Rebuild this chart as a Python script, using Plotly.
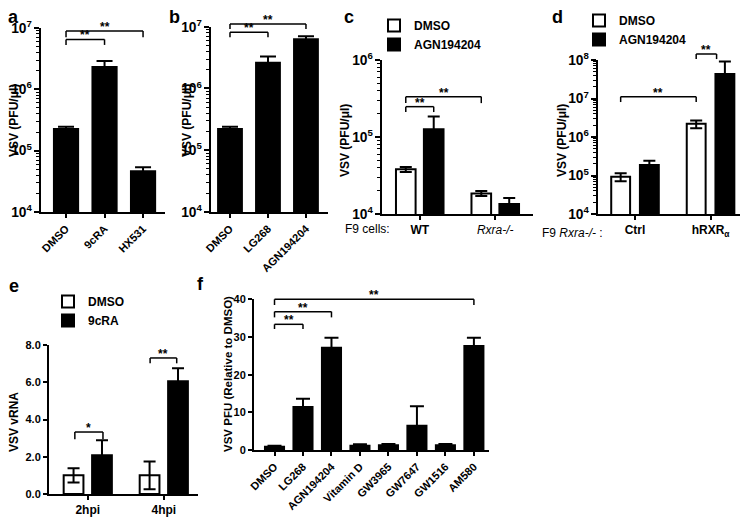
import plotly.graph_objects as go

W, H = 750, 519

# ---------------- data ----------------
a_cats = ["DMSO", "9cRA", "HX531"]
a_vals = [2.35e5, 2.4e6, 4.8e4]
a_err = [0.1e5, 0.5e6, 0.55e4]
a_decades = [4, 7]

b_cats = ["DMSO", "LG268", "AGN194204"]
b_vals = [2.3e5, 2.7e6, 6.5e6]
b_err = [0.1e5, 0.6e6, 0.5e6]
b_decades = [4, 7]

c_groups = ["<b>WT</b>", "<i>Rxra-/-</i>"]
c_dmso = [3.8e4, 1.85e4]
c_dmso_err = [0.28e4, 0.14e4]
c_agn = [1.26e5, 1.35e4]
c_agn_err = [0.58e5, 0.26e4]
c_decades = [4, 6]

d_groups = ["Ctrl", "hRXR<sub>α</sub>"]
d_dmso = [9.3e4, 2.2e6]
d_dmso_err = [2.2e4, 0.5e6]
d_agn = [1.87e5, 4.3e7]
d_agn_err = [0.55e5, 4.8e7]
d_agn_err_minus = [0.5e5, 2.5e7]
d_decades = [4, 8]

e_groups = ["2hpi", "4hpi"]
e_dmso = [1.0, 1.0]
e_dmso_err = [0.38, 0.75]
e_9cra = [2.08, 6.05]
e_9cra_err = [0.8, 0.7]
e_ticks = [0, 2, 4, 6, 8]
e_ticklabels = ["0.0", "2.0", "4.0", "6.0", "8.0"]

f_cats = ["DMSO", "LG268", "AGN194204", "Vitamin D", "GW3965", "GW7647", "GW1516", "AM580"]
f_vals = [1.1, 11.7, 27.4, 1.4, 1.5, 6.7, 1.5, 27.9]
f_err = [0.05, 1.9, 2.4, 0.1, 0.1, 4.9, 0.1, 1.9]
f_ticks = [0, 10, 20, 30, 40]
f_ticklabels = ["0", "10", "20", "30", "40"]

# ---------------- helpers ----------------
FONT = "Liberation Sans, Arial, sans-serif"
BLACK = "#000000"
WHITE = "#ffffff"
OFF = 8  # page offset of the figure inside the browser window


def px_x(p):
    return (p - OFF) / W


def px_y(p):
    return 1 - (p - OFF) / H


def tfont(size=11, weight="bold"):
    return dict(family=FONT, size=size, color=BLACK, weight=weight)


def x_axis(dom_px, rng, anchor, tickangle=0, weight="bold", size=11):
    return dict(domain=[px_x(dom_px[0]), px_x(dom_px[1])], range=rng, anchor=anchor,
                type="category", showline=True, linecolor=BLACK, linewidth=2,
                ticks="outside", ticklen=4, tickwidth=2, tickcolor=BLACK,
                tickangle=tickangle, tickfont=tfont(size, weight),
                showgrid=False, zeroline=False, fixedrange=True)


def log_y(dom_px, decades, anchor):
    return dict(domain=[px_y(dom_px[1]), px_y(dom_px[0])], type="log",
                range=[decades[0], decades[1]], anchor=anchor,
                showline=True, linecolor=BLACK, linewidth=2,
                ticks="outside", ticklen=5, tickwidth=2, tickcolor=BLACK,
                tickmode="linear", tick0=0, dtick=1,
                exponentformat="power", showexponent="all",
                minor=dict(ticks="outside", ticklen=3, tickwidth=1, tickcolor=BLACK,
                           dtick="D1", showgrid=False),
                tickfont=tfont(11), showgrid=False, zeroline=False, fixedrange=True)


def lin_y(dom_px, rng, ticks, labels, anchor):
    return dict(domain=[px_y(dom_px[1]), px_y(dom_px[0])], range=rng, anchor=anchor,
                showline=True, linecolor=BLACK, linewidth=2,
                ticks="outside", ticklen=4, tickwidth=2, tickcolor=BLACK,
                tickmode="array", tickvals=ticks, ticktext=labels,
                tickfont=tfont(11), showgrid=False, zeroline=False, fixedrange=True)


def err(arr, w, minus=None):
    d = dict(type="data", array=arr, color=BLACK, thickness=2, width=w, visible=True)
    if minus is not None:
        d["symmetric"] = False
        d["arrayminus"] = minus
    return d


fig = go.Figure()

# panel a
fig.add_trace(go.Bar(x=a_cats, y=a_vals, width=0.68, marker=dict(color=BLACK, line=dict(width=0)),
                     error_y=err(a_err, 8), xaxis="x", yaxis="y", showlegend=False))
# panel b
fig.add_trace(go.Bar(x=b_cats, y=b_vals, width=0.68, marker=dict(color=BLACK, line=dict(width=0)),
                     error_y=err(b_err, 8), xaxis="x2", yaxis="y2", showlegend=False))
# panel c
fig.add_trace(go.Bar(x=c_groups, y=c_dmso, name="DMSO", width=0.26, offset=-0.315,
                     marker=dict(color=WHITE, line=dict(color=BLACK, width=2)),
                     error_y=err(c_dmso_err, 6), xaxis="x3", yaxis="y3", legend="legend"))
fig.add_trace(go.Bar(x=c_groups, y=c_agn, name="AGN194204", width=0.26, offset=0.055,
                     marker=dict(color=BLACK, line=dict(color=BLACK, width=2)),
                     error_y=err(c_agn_err, 6), xaxis="x3", yaxis="y3", legend="legend"))
# panel d
fig.add_trace(go.Bar(x=d_groups, y=d_dmso, name="DMSO", width=0.25, offset=-0.315,
                     marker=dict(color=WHITE, line=dict(color=BLACK, width=2)),
                     error_y=err(d_dmso_err, 6), xaxis="x4", yaxis="y4", legend="legend2"))
fig.add_trace(go.Bar(x=d_groups, y=d_agn, name="AGN194204", width=0.25, offset=0.065,
                     marker=dict(color=BLACK, line=dict(color=BLACK, width=2)),
                     error_y=err(d_agn_err, 6, d_agn_err_minus), xaxis="x4", yaxis="y4",
                     legend="legend2"))
# panel e
fig.add_trace(go.Bar(x=e_groups, y=e_dmso, name="DMSO", width=0.26, offset=-0.317,
                     marker=dict(color=WHITE, line=dict(color=BLACK, width=2)),
                     error_y=err(e_dmso_err, 6), xaxis="x5", yaxis="y5", legend="legend3"))
fig.add_trace(go.Bar(x=e_groups, y=e_9cra, name="9cRA", width=0.26, offset=0.057,
                     marker=dict(color=BLACK, line=dict(color=BLACK, width=2)),
                     error_y=err(e_9cra_err, 6), xaxis="x5", yaxis="y5", legend="legend3"))
# panel f
fig.add_trace(go.Bar(x=f_cats, y=f_vals, width=0.74, marker=dict(color=BLACK, line=dict(width=0)),
                     error_y=err(f_err, 7), xaxis="x6", yaxis="y6", showlegend=False))

legend_common = dict(xanchor="left", yanchor="top", font=tfont(12), bgcolor="rgba(0,0,0,0)",
                     itemwidth=30, traceorder="normal", tracegroupgap=0, borderwidth=0)

fig.update_layout(
    width=W, height=H, margin=dict(l=0, r=0, t=0, b=0, autoexpand=False),
    paper_bgcolor=WHITE, plot_bgcolor=WHITE, barmode="overlay",
    font=dict(family=FONT, color=BLACK),
    xaxis=x_axis((41, 165), [-0.65, 2.57], "y", tickangle=-45),
    yaxis=log_y((28, 212), a_decades, "x"),
    xaxis2=x_axis((211, 328), [-0.5, 2.58], "y2", tickangle=-45),
    yaxis2=log_y((26.7, 212), b_decades, "x2"),
    xaxis3=x_axis((382, 533), [-0.5, 1.5], "y3", weight="normal", size=12),
    yaxis3=log_y((60, 214), c_decades, "x3"),
    xaxis4=x_axis((598, 740), [-0.49, 1.39], "y4", size=12),
    yaxis4=log_y((60, 214), d_decades, "x4"),
    xaxis5=x_axis((49, 198), [-0.51, 1.45], "y5", size=12),
    yaxis5=lin_y((345, 494), [0, 8], e_ticks, e_ticklabels, "x5"),
    xaxis6=x_axis((254, 489), [-0.72, 7.53], "y6", tickangle=-45),
    yaxis6=lin_y((299.3, 450), [0, 40], f_ticks, f_ticklabels, "x6"),
    legend=dict(x=px_x(374), y=px_y(11), **legend_common),
    legend2=dict(x=px_x(579), y=px_y(6), **legend_common),
    legend3=dict(x=px_x(48), y=px_y(287), **legend_common),
)

# significance brackets: (axis suffix, x0, x1, y level (domain frac), drop level, label)
brackets = [
    ("", 0, 1, 0.938, 0.908, "**"),
    ("", 0, 2, 0.984, 0.950, "**"),
    ("2", 0, 1, 0.970, 0.943, "**"),
    ("2", 0, 2, 1.015, 0.988, "**"),
    ("3", -0.185, 0.185, 0.697, 0.662, "**"),
    ("3", -0.185, 0.815, 0.762, 0.720, "**"),
    ("4", -0.19, 0.81, 0.762, 0.727, "**"),
    ("4", 0.81, 1.08, 1.039, 1.006, "**"),
    ("5", -0.17, 0.2, 0.416, 0.367, "*"),
    ("5", 0.82, 1.17, 0.913, 0.877, "**"),
    ("6", 0, 7, 1.000, 0.962, "**"),
    ("6", 0, 2, 0.918, 0.880, "**"),
    ("6", 0, 1, 0.834, 0.803, "**"),
]
for ax, x0, x1, yl, yd, lab in brackets:
    xr, yr = "x" + ax, "y" + ax + " domain"
    for (xa, ya, xb, yb) in [(x0, yd, x0, yl), (x0, yl, x1, yl), (x1, yl, x1, yd)]:
        fig.add_shape(type="line", xref=xr, yref=yr, x0=xa, y0=ya, x1=xb, y1=yb,
                      line=dict(color=BLACK, width=1.5))
    fig.add_annotation(xref=xr, yref=yr, x=(x0 + x1) / 2, y=yl, text=lab, showarrow=False,
                       yanchor="middle", yshift=4, font=tfont(12))

# axis titles
titles = [
    ("VSV (PFU/μl)", 14, 121, 12),
    ("VSV (PFU/μl)", 187, 121, 12),
    ("VSV (PFU/μl)", 345, 141, 12),
    ("VSV (PFU/μl)", 562, 141, 12),
    ("VSV vRNA", 14, 422, 12),
    ("VSV PFU (Relative to DMSO)", 228, 374, 11.5),
]
for txt, xp, yp, fs in titles:
    fig.add_annotation(xref="paper", yref="paper", x=px_x(xp), y=px_y(yp), text=txt,
                       textangle=-90, showarrow=False, xanchor="center", yanchor="middle",
                       font=tfont(fs))

# group prefix labels
fig.add_annotation(xref="paper", yref="paper", x=px_x(343), y=px_y(229), text="F9 cells:",
                   showarrow=False, xanchor="left", yanchor="middle", font=tfont(12, "normal"))
fig.add_annotation(xref="paper", yref="paper", x=px_x(540), y=px_y(233),
                   text="F9 <i>Rxra-/-</i> :", showarrow=False, xanchor="left",
                   yanchor="middle", font=tfont(12, "normal"))

# panel letters
for letter, xp, yp in [("a", 13, 17), ("b", 174, 17), ("c", 349, 17), ("d", 557, 17),
                       ("e", 14, 286), ("f", 200, 284)]:
    fig.add_annotation(xref="paper", yref="paper", x=px_x(xp), y=px_y(yp), text=letter,
                       showarrow=False, xanchor="center", yanchor="middle", borderpad=0,
                       font=tfont(18))

fig.write_html("out.html")
